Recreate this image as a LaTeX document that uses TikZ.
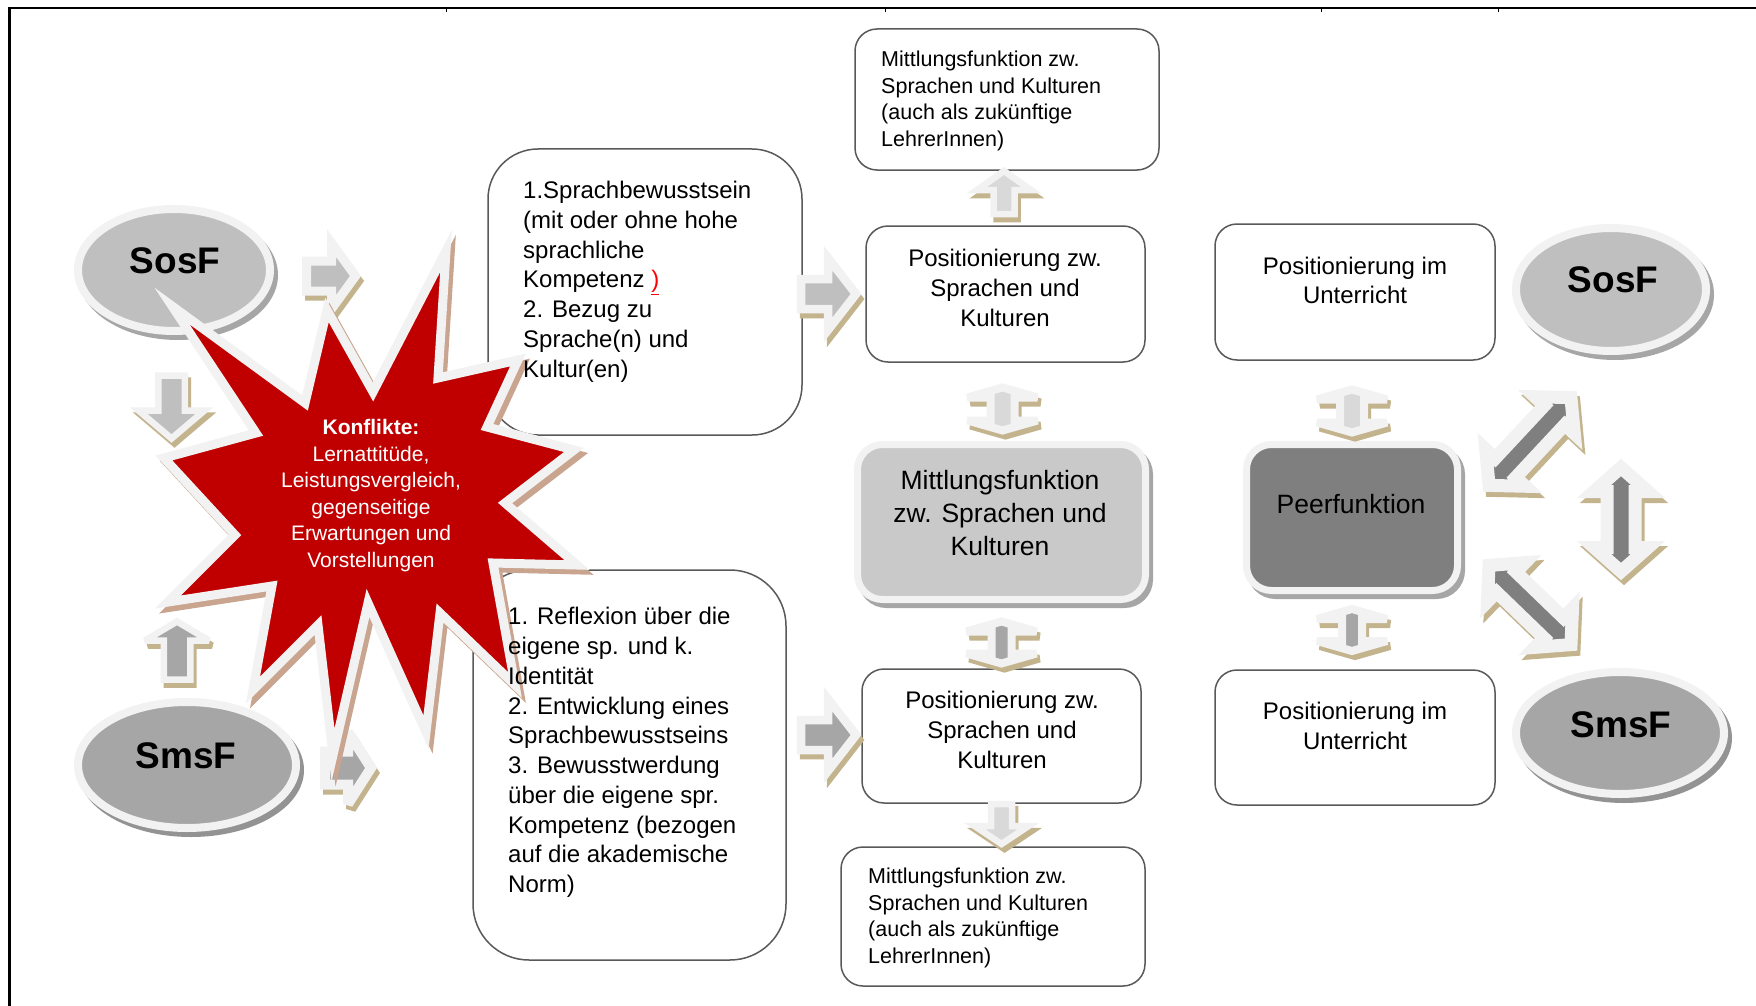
\documentclass[tikz,border=0pt]{standalone}
\usepackage{fontspec}
\setmainfont{Liberation Sans}
\usetikzlibrary{shapes.geometric}
\definecolor{whc}{HTML}{F2F2F2}
\definecolor{tanc}{HTML}{C4B48E}
\definecolor{starred}{HTML}{C00000}
\definecolor{starsh}{HTML}{C9A48E}
\definecolor{lgrey}{HTML}{BFBFBF}
\definecolor{mgrey}{HTML}{A6A6A6}
\definecolor{shgrey}{HTML}{939393}
\definecolor{pgrey}{HTML}{D9D9D9}
\definecolor{dgrey}{HTML}{7F7F7F}
\definecolor{bordc}{HTML}{595959}
\definecolor{egrey}{HTML}{C9C9C9}
\tikzset{
  wbox/.style={draw=bordc, line width=1.5pt, fill=white, inner sep=0pt},
  gbox/.style={draw=whc, fill=#1, line width=7pt, rounded corners=25pt, inner sep=0pt},
  gboxsh/.style={draw=mgrey, fill=mgrey, line width=7pt, rounded corners=25pt, inner sep=0pt},
  ell/.style={ellipse, inner sep=0pt, draw=whc, fill=#1, line width=8pt},
  ellsh/.style={ellipse, inner sep=0pt, draw=#1, fill=#1, line width=8pt},
  txtL/.style={inner sep=0pt, align=left, anchor=north west, font=\fontsize{24}{29.8}\selectfont},
  txtC/.style={inner sep=0pt, align=center, anchor=north, font=\fontsize{24}{29.8}\selectfont},
  txtS/.style={inner sep=0pt, align=left, anchor=north west, font=\fontsize{21.5}{26.5}\selectfont},
  txtE/.style={inner sep=0pt, align=center, anchor=north, font=\fontsize{26.5}{33}\selectfont},
  elltxt/.style={inner sep=0pt, font=\fontsize{37}{44}\selectfont\bfseries},
  startxt/.style={inner sep=0pt, align=center, anchor=north, text=white, font=\fontsize{21}{26.6}\selectfont},
  arrsh/.style={fill=tanc, draw=tanc, line join=miter, miter limit=3.5},
  arrmain/.style={fill=#1, draw=whc, line join=miter, miter limit=3.5},
  starsty/.style={line width=9pt, line join=miter},
}
% polygon of a single block arrow: #1 length, #2 shaft half width, #3 head half width, #4 head length
\newcommand\sapoly[4]{(-#1/2,-#2) -- (#1/2-#4,-#2) -- (#1/2-#4,-#3) -- (#1/2,0) -- (#1/2-#4,#3) -- (#1/2-#4,#2) -- (-#1/2,#2) -- cycle}
\newcommand\dapoly[4]{(-#1/2,0) -- (-#1/2+#4,-#3) -- (-#1/2+#4,-#2) -- (#1/2-#4,-#2) -- (#1/2-#4,-#3) -- (#1/2,0)
      -- (#1/2-#4,#3) -- (#1/2-#4,#2) -- (-#1/2+#4,#2) -- (-#1/2+#4,#3) -- cycle}
% #1 centre, #2 angle, #3 length, #4 shaft half width, #5 head half width, #6 head length, #7 outline width, #8 fill
\newcommand\blkarrow[8]{%
  \path[arrsh, line width=#7pt, xshift=3pt, yshift=-5pt, shift={#1}, rotate=#2] \sapoly{#3}{#4}{#5}{#6};
  \path[arrmain=#8, line width=#7pt, shift={#1}, rotate=#2] \sapoly{#3}{#4}{#5}{#6};
}
\newcommand\dblarrow[8]{%
  \path[arrsh, line width=#7pt, xshift=3pt, yshift=-5pt, shift={#1}, rotate=#2] \dapoly{#3}{#4}{#5}{#6};
  \path[arrmain=#8, line width=#7pt, shift={#1}, rotate=#2] \dapoly{#3}{#4}{#5}{#6};
}
\newcommand\starpoly{(446,251) -- (438,378) -- (518,360) -- (487,427) -- (574,450) -- (505,503) -- (577,565)
 -- (493,563) -- (515,685) -- (440,613) -- (426,732) -- (368,603) -- (333,755) -- (318,625)
 -- (253,690) -- (272,586) -- (168,602) -- (235,535) -- (164,458) -- (256,433) -- (172,306)
 -- (305,403) -- (327,310) -- (373,392) -- cycle}
\begin{document}
\begin{tikzpicture}[x=1pt, y=-1pt]
\useasboundingbox (0,0) rectangle (1756,1006);
\fill[white] (0,0) rectangle (1756,1006);
% table frame
\draw[line width=2.7pt] (9.7,1006) |- (1756,8);
\foreach \tx in {446,885,1321,1498} \draw[line width=0.8pt] (\tx,8) -- (\tx,12);

% white boxes
\node[wbox, rounded corners=50pt, minimum width=314pt, minimum height=286pt] (boxA) at (645,292) {};
\node[wbox, rounded corners=56pt, minimum width=313pt, minimum height=390pt] (boxB) at (629.5,765) {};
\node[wbox, rounded corners=22pt, minimum width=304pt, minimum height=141pt] (boxC) at (1007,99.5) {};
\node[wbox, rounded corners=22pt, minimum width=279pt, minimum height=136pt] (boxD) at (1005.5,294) {};
\node[wbox, rounded corners=22pt, minimum width=279pt, minimum height=134pt] (boxF) at (1001.5,736) {};
\node[wbox, rounded corners=22pt, minimum width=304pt, minimum height=139pt] (boxG) at (993,916.5) {};
\node[wbox, rounded corners=22pt, minimum width=280pt, minimum height=136pt] (boxH) at (1355,292) {};
\node[wbox, rounded corners=22pt, minimum width=280pt, minimum height=135pt] (boxJ) at (1355,737.5) {};
% grey boxes
\node[gboxsh, minimum width=288pt, minimum height=155pt] (boxEsh) at (1005.5,527) {};
\node[gbox=egrey, minimum width=288pt, minimum height=155pt] (boxE) at (1001.5,522) {};
\node[gboxsh, minimum width=211pt, minimum height=146pt] (boxIsh) at (1356,522.5) {};
\node[gbox=dgrey, minimum width=211pt, minimum height=146pt] (boxI) at (1352,517.5) {};

% block arrows
\blkarrow{(331,276)}{0}{49}{15}{33}{24}{9}{lgrey}
\blkarrow{(171.5,407)}{-90}{63}{13.25}{33}{28}{6.5}{lgrey}
\blkarrow{(177,650.5)}{90}{58}{13.25}{32}{19}{6.5}{mgrey}
\blkarrow{(348,768)}{0}{46}{16.5}{36}{23}{10}{mgrey}
\blkarrow{(828.5,294)}{0}{55}{15}{36}{28}{8.5}{lgrey}
\blkarrow{(828.5,735)}{0}{55}{15}{36}{28}{8.5}{mgrey}
\blkarrow{(1004,192.5)}{90}{43}{10.5}{27}{19}{6.5}{pgrey}
\dblarrow{(1002.5,409)}{90}{43}{12}{35}{10}{8}{pgrey}
\dblarrow{(1001.5,642.5)}{90}{42}{10}{35}{10}{8}{mgrey}
\blkarrow{(1001.5,824)}{-90}{40}{10.5}{27}{18}{6.5}{pgrey}
\dblarrow{(1352,411)}{90}{43}{12}{35}{10}{8}{pgrey}
\dblarrow{(1352,630)}{90}{42}{10}{35}{10}{8}{mgrey}
\dblarrow{(1530,441.5)}{47}{120}{14}{27}{24}{13}{dgrey}
\dblarrow{(1530,605)}{-44}{114}{14}{27}{24}{13}{dgrey}
\dblarrow{(1621,519.5)}{90}{104}{14}{27}{24}{13}{dgrey}

% ellipses
\node[ellsh=mgrey, minimum width=192pt, minimum height=122pt] (sosLsh) at (178,275) {};
\node[ell=lgrey, minimum width=192pt, minimum height=122pt] (sosL) at (174,270) {};
\node[elltxt] (sosLt) at (175,261) {SosF};
\node[ellsh=shgrey, minimum width=218pt, minimum height=126pt] (smsLsh) at (191,770) {};
\node[ell=mgrey, minimum width=218pt, minimum height=126pt] (smsL) at (187,765) {};
\node[elltxt] (smsLt) at (186,756) {SmsF};
\node[ellsh=mgrey, minimum width=190pt, minimum height=123pt] (sosRsh) at (1615,294.5) {};
\node[ell=lgrey, minimum width=190pt, minimum height=123pt] (sosR) at (1611,289.5) {};
\node[elltxt] (sosRt) at (1613,280) {SosF};
\node[ellsh=shgrey, minimum width=208pt, minimum height=122pt] (smsRsh) at (1624,738) {};
\node[ell=mgrey, minimum width=208pt, minimum height=122pt] (smsR) at (1620,733) {};
\node[elltxt] (smsRt) at (1621,725) {SmsF};

% star
\path[starsty, fill=starsh, draw=starsh, xshift=4pt, yshift=-5pt] \starpoly;
\path[starsty, fill=starred, draw=whc] \starpoly;
\node[startxt] (startext) at (371,419) {\textbf{Konflikte:}\\Lernattitüde,\\Leistungsvergleich,\\gegenseitige\\Erwartungen und\\Vorstellungen};

% box texts
\node[txtL] (tA) at (523,181) {1.Sprachbewusstsein\\(mit oder ohne hohe\\sprachliche\\Kompetenz \textcolor{red}{\underline{)}}\\2. Bezug zu\\Sprache(n) und\\Kultur(en)};
\node[txtL] (tB) at (508,607) {1. Reflexion über die\\eigene sp. und k.\\Identität\\2. Entwicklung eines\\Sprachbewusstseins\\3. Bewusstwerdung\\über die eigene spr.\\Kompetenz (bezogen\\auf die akademische\\Norm)};
\node[txtS] (tC) at (881,51) {Mittlungsfunktion zw.\\Sprachen und Kulturen\\(auch als zukünftige\\LehrerInnen)};
\node[txtS] (tG) at (868,868) {Mittlungsfunktion zw.\\Sprachen und Kulturen\\(auch als zukünftige\\LehrerInnen)};
\node[txtC] (tD) at (1005,249) {Positionierung zw.\\Sprachen und\\Kulturen};
\node[txtC] (tF) at (1002,691) {Positionierung zw.\\Sprachen und\\Kulturen};
\node[txtC] (tH) at (1355,256.5) {Positionierung im\\Unterricht};
\node[txtC] (tJ) at (1355,702) {Positionierung im\\Unterricht};
\node[txtE] (tE) at (1000,470.5) {Mittlungsfunktion\\zw. Sprachen und\\Kulturen};
\node[txtE] (tI) at (1351,494.5) {Peerfunktion};
\end{tikzpicture}
\end{document}
